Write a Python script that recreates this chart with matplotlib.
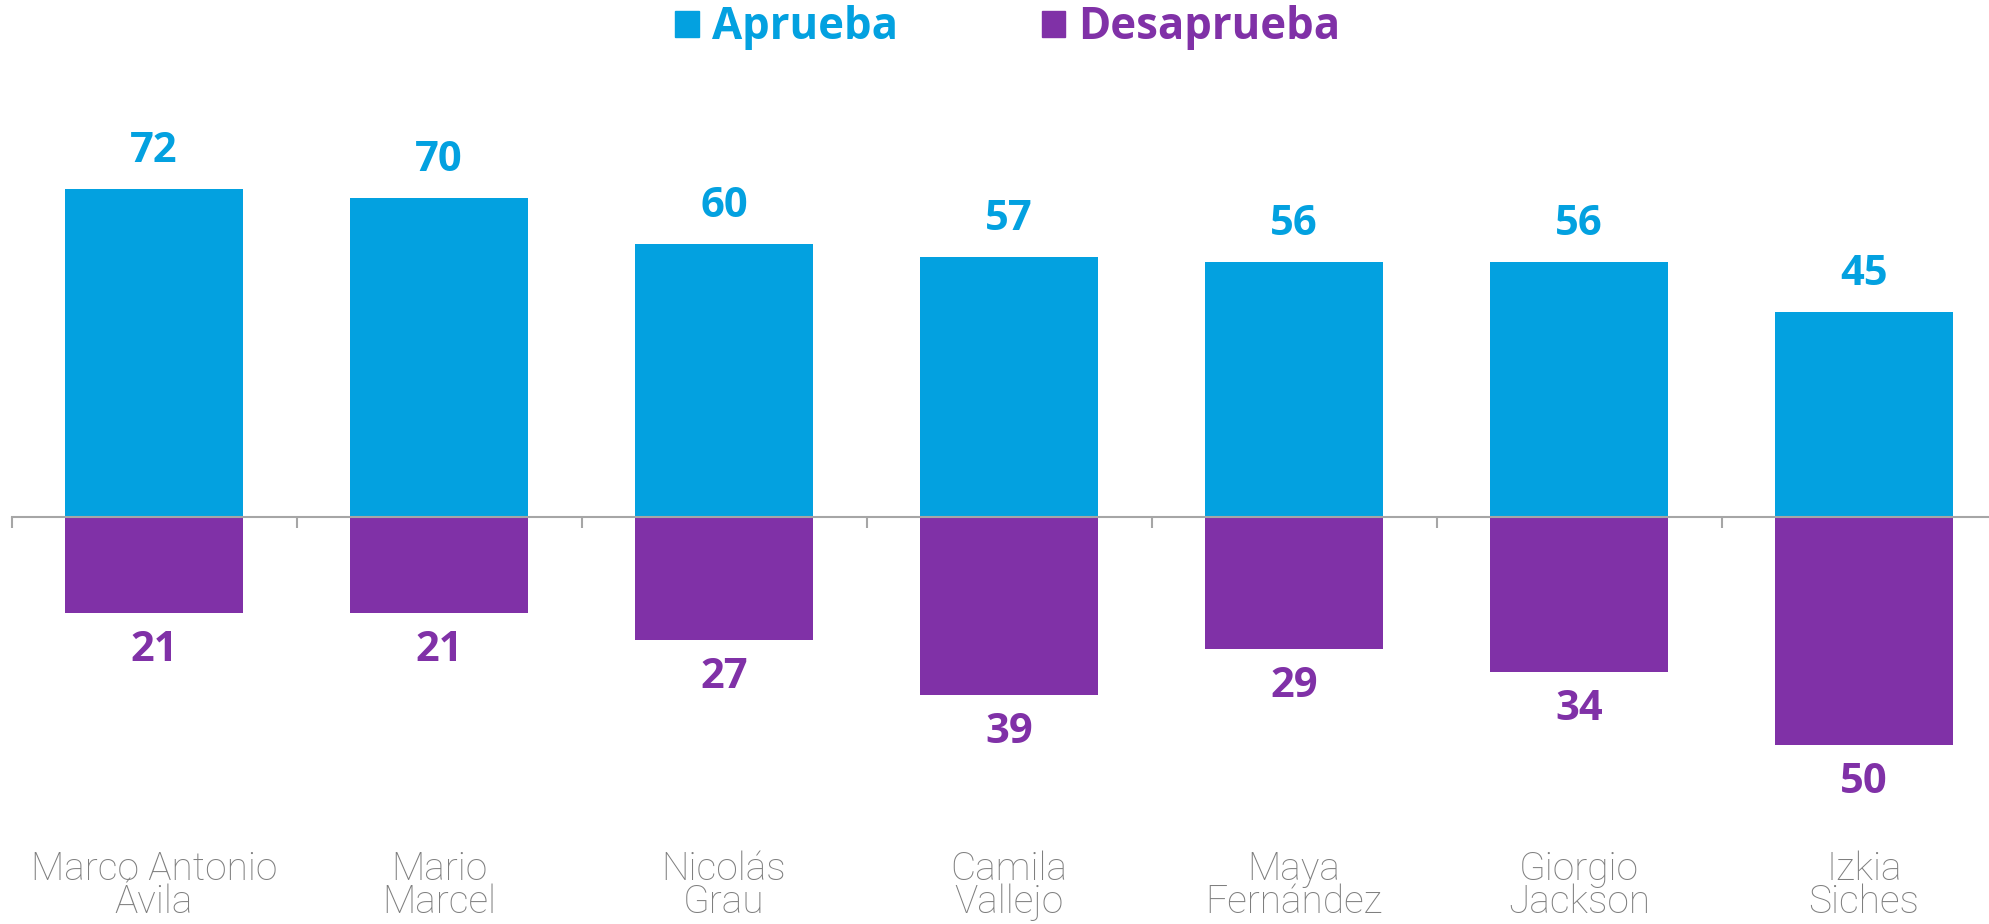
import matplotlib
matplotlib.use("Agg")
import matplotlib.pyplot as plt
from matplotlib.patches import Rectangle
from matplotlib.transforms import blended_transform_factory

categories = ["Marco Antonio\nÁvila", "Mario\nMarcel", "Nicolás\nGrau", "Camila\nVallejo",
              "Maya\nFernández", "Giorgio\nJackson", "Izkia\nSiches"]
aprueba = [72, 70, 60, 57, 56, 56, 45]
desaprueba = [21, 21, 27, 39, 29, 34, 50]

BLUE = "#03A1E0"
PURPLE = "#8031A7"
GREY_AX = "#A6A6A6"
GREY_TXT = "#7F7F7F"
BOLD_FONT = ["Open Sans", "DejaVu Sans"]
LIGHT_FONT = ["Roboto", "DejaVu Sans"]

W, H = 1989, 924
fig = plt.figure(figsize=(W / 100, H / 100), dpi=100)
zero_px = 517.0
px_per_unit = 4.555
ymin, ymax = -80, 100
top_px = zero_px - ymax * px_per_unit
bot_px = zero_px - ymin * px_per_unit
left_px, right_px = 11.5, 2006.5
ax = fig.add_axes([left_px / W, 1 - bot_px / H, (right_px - left_px) / W, (bot_px - top_px) / H])
ax.set_xlim(-0.5, len(categories) - 0.5)
ax.set_ylim(ymin, ymax)

x = list(range(len(categories)))
bw = 0.625
ax.bar(x, aprueba, width=bw, color=BLUE, zorder=2)
ax.bar(x, [-d for d in desaprueba], width=bw, color=PURPLE, zorder=2)

for xi, a, d in zip(x, aprueba, desaprueba):
    ax.annotate(f"{a}", (xi, a), xytext=(0, 27), textcoords="offset points",
                ha="center", va="center", color=BLUE, fontsize=30,
                fontweight="bold", family=BOLD_FONT)
    ax.annotate(f"{d}", (xi, -d), xytext=(0, -27), textcoords="offset points",
                ha="center", va="center", color=PURPLE, fontsize=30,
                fontweight="bold", family=BOLD_FONT)

for s in ["top", "right", "left"]:
    ax.spines[s].set_visible(False)
ax.spines["bottom"].set_position(("data", 0))
ax.spines["bottom"].set_color(GREY_AX)
ax.spines["bottom"].set_linewidth(1.5)
ax.spines["bottom"].set_zorder(3)
ax.set_yticks([])
ax.set_xticks([])
ax.set_xticks([i - 0.5 for i in range(len(categories))], minor=True)
ax.tick_params(axis="x", which="minor", length=8, width=1.5, color=GREY_AX, direction="out")

tr = blended_transform_factory(ax.transData, fig.transFigure)
for xi, c in zip(x, categories):
    ax.text(xi, 1 - 886 / H, c, transform=tr, ha="center", va="center",
            fontsize=28, color=GREY_TXT, family=LIGHT_FONT, fontweight="light",
            linespacing=0.86, clip_on=False)

handles = [Rectangle((0, 0), 1, 1, color=BLUE), Rectangle((0, 0), 1, 1, color=PURPLE)]
leg = ax.legend(handles, ["Aprueba", "Desaprueba"], loc="center", ncol=2,
                bbox_to_anchor=(1008 / W, 1 - 28 / H), bbox_transform=fig.transFigure,
                frameon=False, handlelength=0.53, handleheight=0.53, handletextpad=0.3,
                columnspacing=3.3, borderpad=0, borderaxespad=0,
                prop={"family": BOLD_FONT, "weight": "bold", "size": 31.5})
for t, col in zip(leg.get_texts(), [BLUE, PURPLE]):
    t.set_color(col)

fig.savefig("out.png", dpi=100)
